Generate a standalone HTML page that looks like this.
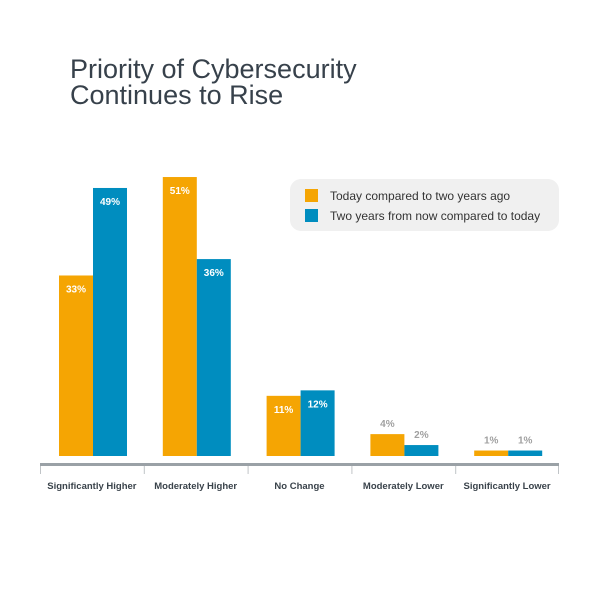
<!DOCTYPE html>
<html><head><meta charset="utf-8"><style>
body{margin:0;background:#fff;width:600px;height:600px;overflow:hidden;font-family:"Liberation Sans",sans-serif}
</style></head><body>
<svg width="600" height="600" xmlns="http://www.w3.org/2000/svg">
<g fill="#37414b" font-size="27" font-family="Liberation Sans, sans-serif">
<text x="70" y="78">Priority of Cybersecurity</text>
<text x="70" y="104">Continues to Rise</text>
</g>
<g>
<rect x="290" y="179" width="269" height="52" rx="11" fill="#f0f0f0"/>
<rect x="305" y="189" width="13" height="13" fill="#f5a503"/>
<text x="330" y="200" font-size="12" fill="#333">Today compared to two years ago</text>
<rect x="305" y="209" width="13" height="13" fill="#008dbf"/>
<text x="330" y="220" font-size="12" fill="#333">Two years from now compared to today</text>
</g>
<g id="bars"></g>
<rect x="40" y="463" width="519" height="3" fill="#9aa1a6"/>
<g id="xaxis"></g>
</svg>
<script>
const categories=["Significantly Higher","Moderately Higher","No Change","Moderately Lower","Significantly Lower"];
const todayValues=[33,51,11,4,1];
const futureValues=[49,36,12,2,1];
const NS="http://www.w3.org/2000/svg";
const x0=40,catW=103.8,base=456,pxPer=5.47,barW=34;
const y=v=>base-v*pxPer;
const bars=document.getElementById('bars'),xa=document.getElementById('xaxis');
function mk(t,a,p){const e=document.createElementNS(NS,t);for(const k in a)e.setAttribute(k,a[k]);p.appendChild(e);return e;}
categories.forEach((c,i)=>{
  const gx=x0+i*catW+19;
  [[todayValues[i],"#f5a503",0,"today"],[futureValues[i],"#008dbf",1,"future"]].forEach(([v,col,j,nm])=>{
    const bx=gx+j*barW;
    const r=mk('rect',{x:bx,y:y(v),width:barW,height:base-y(v),fill:col},bars);
    
    
    const inside=v>=8;
    const t=mk('text',{x:bx+barW/2,y:inside?y(v)+17:y(v)-7,'text-anchor':'middle','font-size':'10','font-weight':'bold',fill:inside?'#fff':'#a0a0a0'},bars);
    t.textContent=v+'%';
    
    
  });
  const tk=mk('rect',{x:x0+i*catW,y:466,width:1,height:8,fill:'#c0c4c7'},xa);
  
  
  const l=mk('text',{x:x0+i*catW+catW/2,y:489,'text-anchor':'middle','font-size':'9.5','font-weight':'bold',fill:'#3a434b'},xa);
  l.textContent=c;
  
  
});
const tk=mk('rect',{x:558,y:466,width:1,height:8,fill:'#c0c4c7'},xa);


</script>
</body></html>
